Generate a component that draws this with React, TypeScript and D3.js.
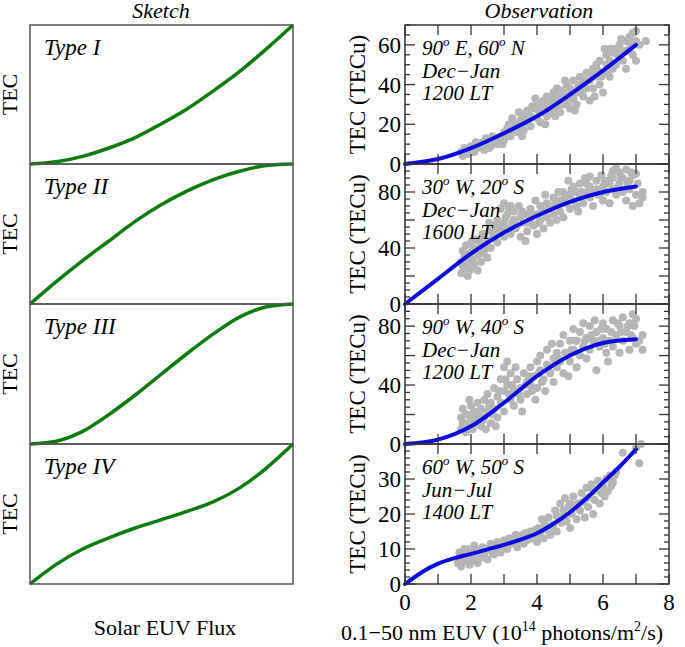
import React from "react";
import * as d3 from "d3";

// ---- sketch curves (normalised flux vs normalised TEC) ----
const sketchX = [0, 0.1, 0.2, 0.3, 0.4, 0.5, 0.6, 0.7, 0.8, 0.9, 1];
const typeI = [0, 0.016, 0.055, 0.115, 0.19, 0.29, 0.4, 0.53, 0.67, 0.83, 1];
const typeII = [0, 0.16, 0.31, 0.45, 0.59, 0.71, 0.81, 0.89, 0.95, 0.99, 1];
const typeIII = [0, 0.02, 0.09, 0.21, 0.35, 0.5, 0.65, 0.79, 0.91, 0.98, 1];
const typeIV = [0, 0.14, 0.25, 0.33, 0.4, 0.46, 0.52, 0.59, 0.69, 0.83, 1];
const sketchNames = ["Type I", "Type II", "Type III", "Type IV"];

// ---- observation fits ----
const fit1 = [[0, 0], [1, 2.5], [2, 8], [3, 15.5], [4, 24], [5, 35], [6, 47], [7, 60]];
const fit2 = [[0, 0], [1, 18], [2, 36], [3, 51], [4, 63], [5, 73], [6, 80], [7, 84]];
const fit3 = [[0, 0], [1, 3], [2, 12], [3, 28], [4, 46], [5, 60], [6, 68.5], [7, 71]];
const fit4 = [[0, 0], [0.5, 3.3], [1, 5.8], [1.5, 7.4], [2, 8.6], [2.5, 9.9], [3, 11.2], [3.5, 12.7], [4, 14.5], [4.5, 17.2], [5, 20.5], [5.5, 24.5], [6, 29], [6.5, 33.5], [7, 38.5]];

// ---- observed points ----
const obs1 = [
  [1.7, 6], [1.8, 8], [1.9, 5], [2.0, 7], [2.0, 9], [2.1, 6], [2.2, 8], [2.2, 10], [1.75, 4], [1.85, 7], [2.15, 11],
  [2.3, 9], [2.4, 7], [2.5, 10], [2.5, 12], [2.6, 9], [2.7, 11], [2.8, 13], [2.8, 10], [2.9, 14], [3.0, 12], [3.0, 16], [2.45, 13], [2.65, 14], [2.95, 10],
  [3.1, 15], [3.1, 18], [3.2, 14], [3.3, 17], [3.3, 20], [3.4, 16], [3.5, 22], [3.5, 19], [3.6, 25], [3.6, 17], [3.7, 21], [3.7, 27], [3.8, 24], [3.8, 19], [3.25, 23], [3.45, 26], [3.55, 14],
  [3.9, 28], [4.0, 23], [4.0, 30], [4.1, 26], [4.1, 21], [4.2, 32], [4.2, 28], [4.3, 24], [4.3, 34], [4.4, 30], [4.4, 26], [4.5, 36], [4.5, 33], [4.6, 28], [4.6, 38], [3.95, 33], [4.25, 20], [4.55, 24],
  [4.7, 32], [4.7, 26], [4.8, 36], [4.8, 30], [4.9, 40], [4.9, 34], [5.0, 28], [5.0, 38], [5.1, 33], [5.1, 42], [5.2, 36], [5.2, 30], [5.3, 40], [5.3, 44], [5.4, 34], [5.5, 38], [5.5, 46], [4.85, 42], [5.15, 27],
  [5.6, 42], [5.6, 32], [5.7, 48], [5.7, 38], [5.8, 44], [5.8, 50], [5.9, 40], [5.9, 52], [6.0, 46], [6.0, 36], [6.1, 50], [6.1, 55], [6.2, 44], [6.2, 52], [6.3, 56], [6.3, 48], [5.75, 34], [6.05, 58],
  [6.4, 58], [6.4, 50], [6.5, 54], [6.5, 60], [6.6, 52], [6.6, 57], [6.7, 62], [6.7, 48], [6.8, 58], [6.8, 64], [6.9, 55], [6.9, 66], [7.0, 62], [7.0, 52], [7.1, 60], [7.3, 62], [7.0, 67],
  [2.05, 8.5], [2.35, 11], [2.55, 8], [2.75, 12.5], [3.05, 14], [3.15, 20], [3.35, 18.5], [3.65, 21], [3.75, 24], [3.85, 29], [4.05, 27], [4.15, 31], [4.35, 28], [4.45, 33], [4.65, 34],
  [4.75, 37], [4.95, 31], [5.05, 35], [5.25, 39], [5.35, 36], [5.45, 42], [5.65, 45], [5.85, 47], [5.95, 44], [6.15, 47], [6.25, 58], [6.45, 55], [6.55, 63], [6.75, 57], [6.85, 61],
];
const obs2 = [
  [1.7, 22], [1.7, 30], [1.75, 38], [1.8, 26], [1.8, 34], [1.85, 42], [1.9, 20], [1.9, 30], [1.95, 36], [2.0, 25], [2.0, 44], [2.05, 32], [2.1, 40], [2.1, 28], [2.15, 46], [2.2, 35], [2.2, 24],
  [2.3, 42], [2.3, 30], [2.4, 50], [2.4, 38], [2.5, 45], [2.5, 33], [2.6, 52], [2.6, 40], [2.7, 48], [2.7, 56], [2.8, 44], [2.8, 60], [2.9, 52], [2.9, 68], [3.0, 48], [3.0, 58], [3.0, 72], [2.35, 36], [2.55, 58],
  [3.1, 64], [3.1, 54], [3.2, 70], [3.2, 50], [3.3, 60], [3.3, 66], [3.4, 56], [3.5, 62], [3.5, 48], [3.6, 58], [3.7, 64], [3.7, 52], [3.8, 60], [3.8, 68], [3.45, 70], [3.65, 45],
  [3.9, 56], [4.0, 64], [4.0, 50], [4.1, 70], [4.1, 60], [4.2, 54], [4.2, 66], [4.3, 62], [4.3, 72], [4.4, 58], [4.4, 68], [4.5, 64], [4.5, 76], [4.6, 70], [4.6, 60], [3.95, 74], [4.25, 78],
  [4.7, 74], [4.7, 66], [4.8, 80], [4.8, 62], [4.9, 72], [5.0, 78], [5.0, 68], [5.1, 84], [5.1, 74], [5.2, 70], [5.2, 80], [5.3, 76], [5.3, 86], [5.4, 72], [5.5, 80], [5.5, 86], [4.95, 88], [5.25, 66],
  [5.6, 76], [5.6, 84], [5.6, 91], [5.7, 70], [5.8, 82], [5.8, 88], [5.9, 78], [6.0, 74], [6.0, 84], [6.1, 80], [6.1, 88], [6.2, 72], [6.3, 82], [6.3, 90], [6.3, 95], [5.95, 92], [6.2, 86],
  [6.4, 78], [6.4, 97], [6.5, 86], [6.5, 94], [6.6, 80], [6.6, 90], [6.7, 74], [6.7, 96], [6.8, 82], [6.8, 88], [6.9, 92], [6.9, 70], [7.0, 78], [7.0, 93], [7.1, 72], [7.2, 76], [7.2, 80],
  [1.75, 27], [1.85, 33], [1.95, 24], [2.05, 39], [2.25, 45], [2.35, 50], [2.45, 42], [2.65, 47], [2.75, 52], [2.85, 56], [3.05, 62], [3.15, 68], [3.25, 58], [3.35, 54], [3.55, 66], [3.75, 58], [3.85, 64],
  [4.05, 58], [4.15, 66], [4.35, 68], [4.55, 72], [4.65, 80], [4.85, 76], [5.05, 82], [5.35, 80], [5.45, 90], [5.65, 80], [5.85, 78], [6.05, 88], [6.25, 92], [6.45, 84], [6.55, 90], [6.75, 86], [6.85, 94], [7.05, 86],
];
const obs3 = [
  [1.7, 10], [1.7, 18], [1.75, 24], [1.8, 14], [1.85, 8], [1.9, 20], [1.9, 12], [2.0, 16], [2.0, 26], [2.05, 10], [2.1, 22], [2.15, 14], [2.2, 28], [2.2, 18], [1.95, 30],
  [2.3, 12], [2.3, 24], [2.4, 30], [2.4, 18], [2.5, 22], [2.5, 34], [2.6, 14], [2.6, 28], [2.7, 38], [2.7, 24], [2.8, 32], [2.8, 18], [2.9, 44], [2.9, 28], [3.0, 36], [3.0, 52], [3.0, 22], [2.45, 10], [2.75, 12],
  [3.1, 56], [3.1, 40], [3.2, 30], [3.2, 48], [3.3, 36], [3.3, 26], [3.4, 44], [3.5, 38], [3.5, 30], [3.6, 48], [3.7, 42], [3.7, 34], [3.8, 52], [3.8, 40], [3.35, 52], [3.55, 22],
  [3.9, 46], [4.0, 56], [4.0, 38], [4.1, 50], [4.1, 60], [4.2, 44], [4.3, 54], [4.3, 64], [4.4, 48], [4.5, 58], [4.5, 42], [4.6, 62], [4.6, 52], [3.95, 30], [4.25, 36], [4.45, 68],
  [4.7, 68], [4.7, 56], [4.8, 48], [4.8, 74], [4.9, 62], [5.0, 70], [5.0, 56], [5.1, 78], [5.1, 64], [5.2, 52], [5.2, 70], [5.3, 60], [5.3, 76], [5.4, 66], [5.5, 72], [5.5, 58], [4.95, 46], [5.4, 82],
  [5.6, 80], [5.6, 64], [5.7, 70], [5.8, 76], [5.8, 50], [5.9, 66], [6.0, 82], [6.0, 72], [6.1, 62], [6.1, 78], [6.2, 70], [6.3, 84], [6.3, 66], [5.75, 84], [6.15, 56],
  [6.4, 74], [6.5, 80], [6.5, 62], [6.6, 86], [6.6, 70], [6.7, 76], [6.8, 64], [6.8, 82], [6.9, 72], [6.9, 88], [7.0, 68], [7.0, 85], [7.1, 70], [7.2, 64], [7.2, 74],
  [1.75, 14], [1.85, 20], [2.05, 20], [2.25, 22], [2.35, 16], [2.55, 26], [2.65, 20], [2.85, 36], [3.05, 44], [3.15, 34], [3.25, 40], [3.45, 34], [3.65, 40], [3.75, 46], [3.85, 36], [4.05, 48], [4.15, 42],
  [4.35, 50], [4.55, 54], [4.65, 58], [4.85, 62], [5.05, 64], [5.15, 70], [5.25, 62], [5.45, 70], [5.65, 74], [5.85, 70], [5.95, 78], [6.05, 68], [6.25, 76], [6.45, 82], [6.55, 76], [6.75, 80], [6.85, 74], [6.95, 80],
];
const obs4 = [
  [1.6, 6], [1.65, 9], [1.7, 5], [1.75, 8], [1.8, 10], [1.85, 6.5], [1.9, 8.5], [1.95, 5.5], [2.0, 9.5], [2.05, 7], [2.1, 11], [2.15, 8], [2.2, 6], [2.25, 9.5], [2.3, 7.5], [2.35, 10.5], [2.4, 8.5],
  [2.5, 7], [2.55, 10], [2.6, 11.5], [2.7, 8.5], [2.75, 10.5], [2.8, 12], [2.9, 9], [2.95, 11], [3.0, 12.5], [3.1, 10], [3.15, 13], [3.2, 11.5], [3.3, 12], [3.35, 14], [3.4, 10.5], [3.5, 13],
  [3.6, 11.5], [3.65, 14.5], [3.7, 12.5], [3.8, 15], [3.85, 13], [3.9, 14], [4.0, 12], [4.05, 16], [4.1, 14], [4.15, 18.5], [4.2, 13], [4.25, 17], [4.3, 15.5], [4.35, 19], [4.4, 14],
  [4.5, 17], [4.55, 21], [4.6, 15], [4.65, 19], [4.7, 23], [4.75, 17.5], [4.8, 21], [4.85, 24.5], [4.9, 18], [4.95, 22], [5.0, 16], [5.05, 20], [5.1, 25], [5.15, 22.5], [5.2, 18.5],
  [5.3, 21], [5.35, 26], [5.4, 23.5], [5.45, 19], [5.5, 27.5], [5.55, 22], [5.6, 25], [5.65, 28.5], [5.7, 20], [5.75, 24], [5.8, 27], [5.85, 29.5], [5.9, 23], [5.95, 26], [6.0, 28],
  [6.1, 30], [6.15, 26.5], [6.2, 31], [6.3, 29], [6.4, 32], [6.6, 37.5], [7.0, 39], [7.1, 34.5], [7.15, 40],
  [1.7, 7], [1.9, 10], [2.0, 6.5], [2.2, 9], [2.45, 10], [2.65, 9], [2.85, 10], [3.05, 11], [3.25, 13], [3.45, 12], [3.55, 14], [3.75, 13.5], [3.95, 15.5],
  [4.45, 16], [4.6, 19.5], [4.8, 19], [5.0, 23], [5.25, 23], [5.5, 24.5], [5.7, 26.5], [5.9, 27], [6.05, 25], [6.25, 28], [6.35, 31],
];

const yMax = [70, 100, 95, 40];
const yLabels = [[0, 20, 40, 60], [0, 40, 80], [0, 40, 80], [0, 10, 20, 30]];
const yMajorStep = [20, 20, 20, 10];
const yMinorStep = [5, 5, 5, 2];
const xTickLabels = [0, 2, 4, 6, 8];
const places = [
  ["90", "E, 60", "N"],
  ["30", "W, 20", "S"],
  ["90", "W, 40", "S"],
  ["60", "W, 50", "S"],
];
const months = ["Dec\u2212Jan", "Dec\u2212Jan", "Dec\u2212Jan", "Jun\u2212Jul"];
const times = ["1200 LT", "1600 LT", "1200 LT", "1400 LT"];

const FONT = "Liberation Serif, Times New Roman, serif";
const tops = [25, 164, 304, 444];
const bottoms = [164, 304, 444, 584];

export default function App() {
  const sx = d3.scaleLinear().domain([0, 1]).range([30, 293]);
  const ox = d3.scaleLinear().domain([0, 8]).range([405, 669]);
  const sketches = [typeI, typeII, typeIII, typeIV];
  const fits = [fit1, fit2, fit3, fit4];
  const obs = [obs1, obs2, obs3, obs4];
  const it = { fontFamily: FONT, fontStyle: "italic" };
  const rm = { fontFamily: FONT };

  return (
    <svg width={685} height={647} style={{ position: "absolute", left: 0, top: 0, background: "#fff", fontFamily: FONT }}>
      <text x={161} y={18} textAnchor="middle" fontSize={22} style={it}>Sketch</text>
      <text x={539} y={18} textAnchor="middle" fontSize={22} style={it}>Observation</text>

      {sketches.map((vals, i) => {
        const sy = d3.scaleLinear().domain([0, 1]).range([bottoms[i], tops[i]]);
        const line = d3.line<number>().x((_, j) => sx(sketchX[j])).y((d) => sy(d)).curve(d3.curveMonotoneX);
        return (
          <g key={"s" + i}>
            <path d={line(vals) || ""} fill="none" stroke="#0c7c0c" strokeWidth={3.5} />
            <rect x={30} y={tops[i]} width={263} height={bottoms[i] - tops[i]} fill="none" stroke="#555" strokeWidth={1.5} />
            <text x={44} y={tops[i] + 30} fontSize={23} style={it}>{sketchNames[i]}</text>
            <text transform={`translate(17,${(tops[i] + bottoms[i]) / 2}) rotate(-90)`} textAnchor="middle" fontSize={22} style={rm}>TEC</text>
          </g>
        );
      })}
      <text x={165} y={635} textAnchor="middle" fontSize={22} style={rm}>Solar EUV Flux</text>

      {obs.map((pts, i) => {
        const oy = d3.scaleLinear().domain([0, yMax[i]]).range([bottoms[i], tops[i]]);
        const line = d3.line<number[]>().x((d) => ox(d[0])).y((d) => oy(d[1])).curve(d3.curveMonotoneX);
        const minor = d3.range(0, yMax[i] + 0.001, yMinorStep[i]);
        const xt = d3.range(0, 9, 1);
        return (
          <g key={"o" + i}>
            {pts.map((p, j) => (
              <circle key={j} cx={ox(p[0])} cy={oy(p[1])} r={4} fill="#b6b6b6" />
            ))}
            <path d={line(fits[i]) || ""} fill="none" stroke="#0c0ce0" strokeWidth={4} strokeLinecap="round" />
            <rect x={405} y={tops[i]} width={264} height={bottoms[i] - tops[i]} fill="none" stroke="#333" strokeWidth={1.5} />
            {minor.map((v) => {
              const len = Math.abs(v % yMajorStep[i]) < 1e-6 ? 10 : 5;
              return (
                <g key={"t" + v} stroke="#333" strokeWidth={1.3}>
                  <line x1={405} x2={405 + len} y1={oy(v)} y2={oy(v)} />
                  <line x1={669} x2={669 - len} y1={oy(v)} y2={oy(v)} />
                </g>
              );
            })}
            {xt.map((v) => (
              <g key={"x" + v} stroke="#333" strokeWidth={1.3}>
                <line x1={ox(v)} x2={ox(v)} y1={tops[i]} y2={tops[i] + 10} />
                <line x1={ox(v)} x2={ox(v)} y1={bottoms[i]} y2={bottoms[i] - 10} />
              </g>
            ))}
            {yLabels[i].map((v) => (
              <text key={"l" + v} x={401} y={oy(v)} dy="0.35em" textAnchor="end" fontSize={23} style={rm}>{v}</text>
            ))}
            <text transform={`translate(365,${(tops[i] + bottoms[i]) / 2}) rotate(-90)`} textAnchor="middle" fontSize={23} style={rm}>TEC (TECu)</text>
            <text x={422} y={tops[i] + 30} fontSize={21} style={it}>
              {places[i][0]}
              <tspan dy={-9} fontSize={13}>o</tspan>
              <tspan dy={9}> {places[i][1]}</tspan>
              <tspan dy={-9} fontSize={13}>o</tspan>
              <tspan dy={9}> {places[i][2]}</tspan>
            </text>
            <text x={422} y={tops[i] + 52.5} fontSize={21} style={it}>{months[i]}</text>
            <text x={422} y={tops[i] + 75} fontSize={21} style={it}>{times[i]}</text>
          </g>
        );
      })}
      {xTickLabels.map((v) => (
        <text key={"xl" + v} x={ox(v)} y={610} textAnchor="middle" fontSize={23} style={rm}>{v}</text>
      ))}
      <text x={341} y={640} fontSize={22} style={rm}>
        0.1{"\u2212"}50 nm EUV (10
        <tspan dy={-9} fontSize={14}>14</tspan>
        <tspan dy={9}> photons/m</tspan>
        <tspan dy={-9} fontSize={14}>2</tspan>
        <tspan dy={9}>/s)</tspan>
      </text>
    </svg>
  );
}
